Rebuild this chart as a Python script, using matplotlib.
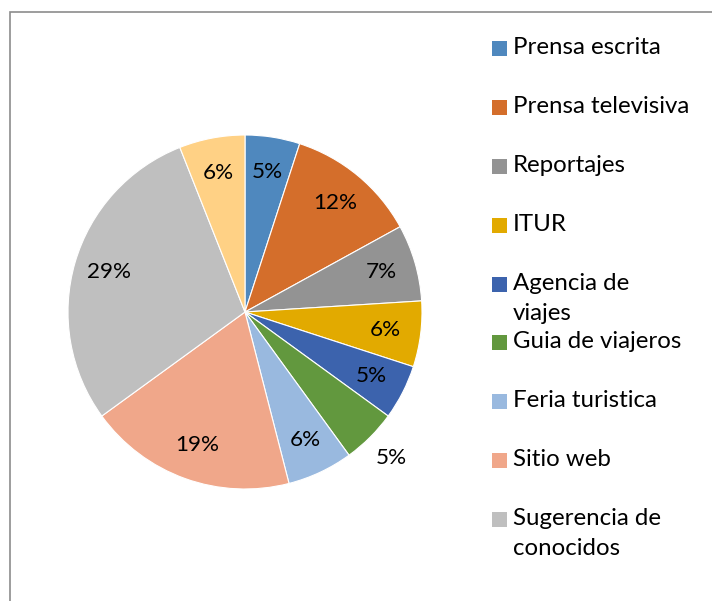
import matplotlib.pyplot as plt
from matplotlib.patches import Rectangle
import numpy as np

labels = ['Prensa escrita', 'Prensa televisiva', 'Reportajes', 'ITUR',
          'Agencia de\nviajes', 'Guia de viajeros', 'Feria turistica',
          'Sitio web', 'Sugerencia de\nconocidos', 'Otros']
values = [5, 12, 7, 6, 5, 5, 6, 19, 29, 6]
colors = ['#4F88BE', '#D46E2B', '#939393', '#E2AA00', '#3C63AD',
          '#62983E', '#99B9DF', '#F0A78A', '#BFBFBF', '#FFD185']

plt.rcParams['font.family'] = ['Lato', 'DejaVu Sans']

W, H = 712, 601
fig = plt.figure(figsize=(W / 100, H / 100), dpi=100)

# outer chart frame (runs off the right and bottom edges)
fig.patches.append(Rectangle((10 / W, -0.1), 1.2, (H - 12) / H + 0.1,
                             transform=fig.transFigure, fill=False,
                             edgecolor='#8C8C8C', linewidth=1.2))

cx, cy, r = 245, 312, 177
ax = fig.add_axes([(cx - r) / W, (H - cy - r) / H, 2 * r / W, 2 * r / H])
wedges, texts, autotexts = ax.pie(
    values, colors=colors, startangle=90, counterclock=False,
    autopct='%1.0f%%', pctdistance=0.8,
    wedgeprops=dict(edgecolor='white', linewidth=0.8),
    textprops=dict(fontsize=16.2, color='black'))
ax.set_aspect('auto')
ax.set_xlim(-1, 1)
ax.set_ylim(-1, 1)

# the small green slice has its label outside
w = wedges[5]
mid = np.deg2rad((w.theta1 + w.theta2) / 2)
autotexts[5].set_position((1.17 * np.cos(mid), 1.17 * np.sin(mid)))

# legend (first nine entries only, as in the original)
rows = [48, 107, 166, 225, 284, 342, 401, 460, 519]
for i, y in enumerate(rows):
    fig.patches.append(Rectangle((492 / W, 1 - (y + 7.5) / H), 15 / W, 15 / H,
                                 transform=fig.transFigure,
                                 facecolor=colors[i], edgecolor='none'))
    fig.text(513 / W, 1 - (y - 11) / H, labels[i], fontsize=17.3,
             va='top', ha='left', linespacing=1.55)

fig.savefig('out.png', dpi=100, facecolor='white')
